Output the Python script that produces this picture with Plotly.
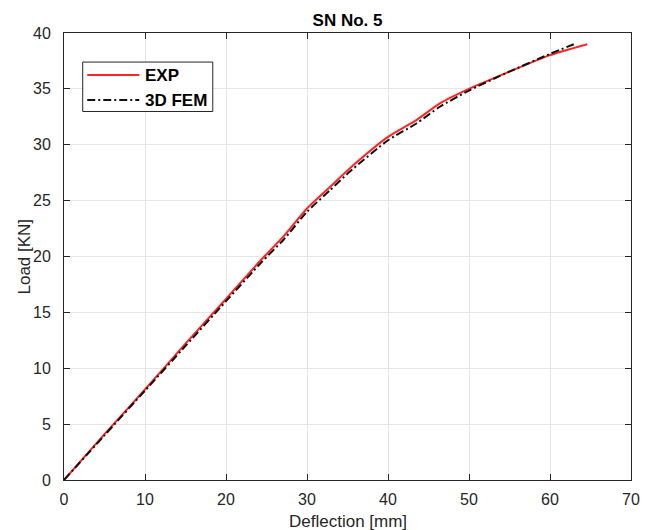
import plotly.graph_objects as go

# Load-deflection response, specimen SN No. 5
exp_deflection = [0, 5, 10, 15, 20, 24.4, 27.1, 30, 32.8, 35.3, 40, 43.5, 46.4, 50, 54.7, 59.9, 64.6]
exp_load = [0, 4.1, 8.1, 12.2, 16.2, 19.75, 21.8, 24.3, 26.2, 27.9, 30.7, 32.2, 33.7, 35.0, 36.45, 38.0, 39.0]

fem_deflection = [0, 5, 10, 15, 20, 24.4, 27.1, 30, 32.8, 35.3, 40, 43.5, 46.4, 50, 54.7, 59.9, 63.3]
fem_load = [0, 4.0, 8.0, 12.0, 16.0, 19.5, 21.5, 24.0, 25.9, 27.6, 30.4, 31.9, 33.4, 34.85, 36.45, 38.1, 39.1]

series_names = ["EXP", "3D FEM"]
x_ticks = [0, 10, 20, 30, 40, 50, 60, 70]
y_ticks = [0, 5, 10, 15, 20, 25, 30, 35, 40]

FONT = "Liberation Sans, Arial, sans-serif"
AXIS_COLOR = "#262626"
RED = "#ff2424"
BLACK = "#111111"
FEM_DASH = "8px,3px,2px,3px"

fig = go.Figure()
fig.add_trace(go.Scatter(
    x=exp_deflection, y=exp_load, mode="lines", name=series_names[0],
    line=dict(color=RED, width=2, shape="spline", smoothing=0.6), showlegend=False,
))
fig.add_trace(go.Scatter(
    x=fem_deflection, y=fem_load, mode="lines", name=series_names[1],
    line=dict(color=BLACK, width=2, dash=FEM_DASH, shape="spline", smoothing=0.6), showlegend=False,
))

axis_common = dict(
    showline=True, linecolor=AXIS_COLOR, linewidth=1, mirror="ticks",
    ticks="inside", ticklen=6, tickcolor=AXIS_COLOR, tickwidth=1,
    showgrid=True, gridcolor="#e6e6e6", gridwidth=1, zeroline=False,
    tickfont=dict(family=FONT, size=16, color=AXIS_COLOR),
    automargin=False,
)

fig.update_xaxes(range=[0, 70], tickvals=x_ticks, ticklabelstandoff=5, **axis_common)
fig.update_yaxes(range=[0, 40], tickvals=y_ticks, ticklabelstandoff=9, **axis_common)

# Boxed legend in the upper-left corner of the axes
box = dict(x0=0.033, x1=0.2624, y0=0.8244, y1=0.935)
rows_y = [0.906, 0.850]
line_x = (0.041, 0.1328)
shapes = [dict(type="rect", xref="paper", yref="paper", layer="above",
               fillcolor="white", line=dict(color=AXIS_COLOR, width=1), **box)]
annotations = []
for name, ry, color, dash in zip(series_names, rows_y, [RED, BLACK], ["solid", FEM_DASH]):
    shapes.append(dict(type="line", xref="paper", yref="paper", layer="above",
                       x0=line_x[0], x1=line_x[1], y0=ry, y1=ry,
                       line=dict(color=color, width=2, dash=dash)))
    annotations.append(dict(text=f"<b>{name}</b>", xref="paper", yref="paper",
                            x=0.139, y=ry, xanchor="left", yanchor="middle", showarrow=False,
                            font=dict(family=FONT, size=17, color="#000000")))

# Axis titles
annotations.append(dict(text="Deflection [mm]", xref="paper", yref="paper", x=0.5, y=-0.0933,
                        xanchor="center", yanchor="middle", showarrow=False,
                        font=dict(family=FONT, size=17, color=AXIS_COLOR)))
annotations.append(dict(text="Load [KN]", xref="paper", yref="paper", x=-0.0705, y=0.5,
                        xanchor="center", yanchor="middle", textangle=-90, showarrow=False,
                        font=dict(family=FONT, size=17, color=AXIS_COLOR)))

fig.update_layout(
    width=651, height=530,
    margin=dict(l=64, r=20, t=33, b=50),
    paper_bgcolor="white", plot_bgcolor="white",
    title=dict(text="<b>SN No. 5</b>", x=0.5, xanchor="center", xref="paper",
               y=1 - 20 / 530, yanchor="middle",
               font=dict(family=FONT, size=17, color="#000000")),
    shapes=shapes, annotations=annotations,
    showlegend=False,
)

fig.write_html("out.html")
